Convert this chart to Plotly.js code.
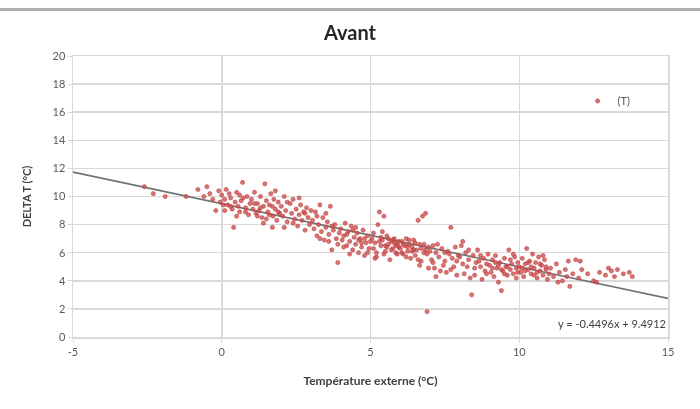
<!DOCTYPE html>
<html>
<head>
<meta charset="utf-8">
<script src="https://cdn.plot.ly/plotly-3.0.1.min.js"></script>
<style>
  html, body { margin: 0; padding: 0; background: #fff; }
  #wrap { position: relative; width: 700px; height: 409px; }
  #topline { position: absolute; left: 0; top: 8px; width: 700px; height: 3px; background: #b0b0b0; }
  #chart { position: absolute; left: 0; top: 0; width: 700px; height: 409px; filter: blur(0.5px); }
</style>
</head>
<body>
<div id="wrap"><div id="topline"></div><div id="chart"></div></div>
<script>
// Scatter data: external temperature (°C) vs DELTA T (°C)
const tempExt = [
  -2.6,-2.3,-1.9,-1.2,-0.8,-0.5,-0.2,-0.4,-0.1,-0.3,-0.6,-0.05,
  0.0,0.1,0.15,0.2,0.25,0.3,0.35,0.4,0.45,0.5,0.55,0.6,0.65,0.7,0.72,0.8,0.85,0.9,0.95,0.3,0.5,0.1,0.6,0.8,0.05,
  1.0,1.05,1.1,1.15,1.2,1.25,1.3,1.35,1.4,1.45,1.5,1.55,1.6,1.65,1.7,1.72,1.75,1.8,1.85,1.9,1.95,1.2,1.4,1.6,1.8,1.1,1.3,1.5,1.7,1.9,
  2.0,2.05,2.1,2.15,2.2,2.3,2.35,2.4,2.45,2.5,2.55,2.6,2.65,2.7,2.75,2.8,2.85,2.9,2.95,2.2,2.4,2.6,2.8,3.0,2.1,
  3.05,3.1,3.15,3.2,3.25,3.3,3.35,3.4,3.45,3.5,3.55,3.6,3.65,3.7,3.75,3.8,3.85,3.9,3.95,3.3,3.5,3.7,3.9,3.2,3.6,
  4.0,4.05,4.1,4.15,4.2,4.25,4.3,4.35,4.4,4.45,4.5,4.55,4.6,4.65,4.7,4.75,4.8,4.85,4.9,4.95,4.2,4.4,4.6,4.8,4.1,4.3,4.5,4.7,4.9,5.0,
  5.05,5.1,5.15,5.2,5.25,5.3,5.35,5.4,5.45,5.5,5.55,5.6,5.65,5.7,5.75,5.8,5.85,5.9,5.95,5.1,5.2,5.3,5.4,5.5,5.6,5.7,5.8,5.9,5.15,5.35,5.55,5.75,5.95,5.45,5.85,
  6.0,6.05,6.1,6.15,6.2,6.25,6.3,6.35,6.4,6.45,6.5,6.55,6.6,6.65,6.7,6.75,6.8,6.85,6.9,6.95,6.1,6.2,6.3,6.4,6.5,6.6,6.7,6.8,6.9,6.05,6.25,6.45,6.65,6.85,6.95,
  7.0,7.05,7.1,7.15,7.2,7.3,7.35,7.4,7.5,7.55,7.6,7.7,7.75,7.8,7.85,7.9,7.95,7.25,7.45,7.65,7.1,7.5,7.9,7.2,7.7,
  8.0,8.05,8.1,8.15,8.2,8.3,8.35,8.4,8.45,8.5,8.55,8.6,8.7,8.75,8.8,8.85,8.9,8.95,8.25,8.65,8.1,8.5,8.9,8.3,8.7,
  9.0,9.05,9.1,9.15,9.2,9.25,9.3,9.35,9.4,9.45,9.5,9.55,9.6,9.65,9.7,9.75,9.8,9.85,9.9,9.95,9.1,9.3,9.5,9.7,9.9,9.2,9.4,9.6,9.8,9.95,
  10.0,10.05,10.1,10.15,10.2,10.25,10.3,10.35,10.4,10.45,10.5,10.55,10.6,10.65,10.7,10.75,10.8,10.85,10.9,10.95,10.1,10.3,10.5,10.7,10.9,10.2,10.4,10.6,10.8,11.0,
  11.05,11.15,11.25,11.35,11.45,11.55,11.65,11.7,11.8,11.9,12.0,12.1,11.3,11.6,12.05,
  12.3,12.5,12.7,12.9,13.0,13.1,13.2,13.3,13.5,13.7,13.8,12.6
];
const deltaT = [
  10.7,10.2,10.0,10.0,10.5,10.7,9.0,10.2,10.4,9.8,10.0,9.6,
  10.1,9.8,10.5,9.4,10.2,9.9,9.1,7.8,9.6,10.3,9.3,8.9,9.7,11.0,9.9,9.2,10.0,8.7,9.5,9.3,8.6,9.0,10.1,8.9,9.4,
  9.8,9.1,10.3,8.8,9.5,9.0,10.0,8.5,9.3,10.9,9.7,8.9,9.4,10.2,7.8,8.6,9.8,9.1,8.3,9.6,8.8,8.6,8.1,8.7,10.4,9.5,9.2,8.4,9.3,8.9,
  9.3,8.6,10.0,9.0,8.2,9.5,8.8,9.8,8.4,9.1,7.9,8.7,9.4,8.3,8.9,7.6,9.2,8.5,8.0,9.6,8.1,9.9,8.8,9.0,7.8,
  8.3,7.7,8.9,7.2,8.0,9.4,7.5,8.5,6.9,7.8,8.2,7.3,9.3,6.2,7.6,8.0,7.0,5.3,7.4,7.0,8.8,7.9,6.6,8.6,6.8,
  7.7,6.9,7.2,8.1,6.5,7.5,6.8,7.9,6.2,7.1,6.6,7.4,6.0,7.0,6.4,7.6,5.8,6.7,7.2,6.3,7.3,7.6,6.9,7.0,6.4,5.9,7.8,6.7,6.0,6.8,
  7.0,6.3,6.7,5.7,8.0,8.9,6.5,6.9,8.6,6.1,7.2,6.6,5.5,6.8,6.3,7.0,6.0,6.6,6.4,7.4,6.0,6.8,7.5,6.5,7.0,6.2,6.7,5.9,5.6,7.1,6.4,6.9,6.8,5.9,6.5,
  6.3,6.8,5.9,6.5,7.0,6.1,6.6,5.6,6.4,6.9,5.8,6.2,8.3,6.6,5.4,8.6,6.0,8.8,1.8,6.4,6.6,5.7,6.9,6.1,6.7,5.5,6.3,6.6,5.9,6.0,6.4,6.2,5.1,6.2,4.9,
  6.1,5.5,6.5,4.9,6.0,5.7,4.7,6.3,5.4,4.6,6.1,7.8,5.6,5.0,6.4,4.4,5.8,6.6,5.1,5.9,5.3,6.0,5.4,4.3,4.8,
  5.7,6.5,5.2,4.5,6.0,5.5,4.2,3.0,5.8,4.9,5.3,6.2,5.0,4.1,5.6,4.7,5.2,5.9,5.0,5.4,6.8,4.4,4.5,6.2,5.8,
  5.1,4.6,5.5,4.3,5.8,4.9,3.9,5.3,3.3,4.7,5.6,5.0,4.4,6.2,4.8,5.2,4.5,5.7,4.9,5.3,4.9,5.1,4.5,5.5,4.2,5.3,4.8,5.0,5.9,4.6,
  5.0,4.6,5.6,4.3,5.2,6.3,4.8,5.4,4.5,5.9,4.9,5.3,4.2,5.7,4.7,5.1,4.4,5.5,4.8,4.1,4.9,5.3,4.4,5.2,5.0,4.7,5.0,4.6,5.8,4.5,
  4.9,4.3,5.2,4.6,4.0,4.8,5.4,3.6,4.5,5.5,4.2,4.8,3.9,4.3,5.4,
  4.5,4.0,4.6,4.4,4.9,4.7,4.3,4.8,4.5,4.6,4.3,3.9
];
// Trendline shown on the chart: y = -0.4496x + 9.4912
const trendSlope = -0.4496;
const trendIntercept = 9.4912;
const trendX = [-5, 15];
const trendY = trendX.map(x => trendSlope * x + trendIntercept);
const xTicks = [-5, 0, 5, 10, 15];
const yTicks = [0, 2, 4, 6, 8, 10, 12, 14, 16, 18, 20];

const gridColor = '#d9d9d9';
const font = 'Lato, "Open Sans", sans-serif';

const traces = [
  {
    x: trendX, y: trendY, mode: 'lines', type: 'scatter',
    line: { color: '#6f7374', width: 1.6 }, showlegend: false, hoverinfo: 'skip'
  },
  {
    x: tempExt, y: deltaT, mode: 'markers', type: 'scatter', name: '(T)',
    marker: { color: 'rgba(205,80,80,0.8)', size: 4.2, line: { color: 'rgba(185,55,55,0.85)', width: 0.6 } }
  }
];

const layout = {
  width: 700, height: 409,
  margin: { l: 73, r: 32, t: 56, b: 72 },
  paper_bgcolor: 'rgba(0,0,0,0)', plot_bgcolor: 'rgba(0,0,0,0)',
  font: { family: font, color: '#595959', size: 11 },
  title: { text: '<b>Avant</b>', x: 0.5, xanchor: 'center', y: 0.92, yanchor: 'middle',
           font: { family: font, size: 20, color: '#262626' } },
  xaxis: {
    range: [-5, 15], tickvals: xTicks, ticktext: xTicks.map(String),
    showgrid: true, gridcolor: gridColor, gridwidth: 1.5, zeroline: false, zerolinecolor: gridColor, zerolinewidth: 1.5,
    showline: true, linecolor: gridColor, linewidth: 1.5, mirror: true,
    ticks: 'outside', ticklen: 4, tickcolor: gridColor,
    tickfont: { size: 11, color: '#595959' },
    title: { text: '<b>Température externe (°C)</b>', standoff: 20, font: { size: 12, color: '#404040' } }
  },
  yaxis: {
    range: [0, 20], tickvals: yTicks, ticktext: yTicks.map(String),
    showgrid: true, gridcolor: gridColor, gridwidth: 1.5, zeroline: false, zerolinecolor: gridColor, zerolinewidth: 1.5,
    showline: true, linecolor: gridColor, linewidth: 1.5, mirror: true,
    ticks: 'outside', ticklen: 4, tickcolor: gridColor,
    tickfont: { size: 11, color: '#595959' },
    title: { text: '<b>DELTA T (°C)</b>', standoff: 18, font: { size: 11, color: '#404040' } }
  },
  legend: { x: 0.848, y: 0.84, xanchor: 'left', yanchor: 'middle', bgcolor: 'rgba(0,0,0,0)',
            font: { size: 11, color: '#595959' }, itemwidth: 30 },
  annotations: [{
    xref: 'x', yref: 'y', x: 15, y: 0.95, xanchor: 'right', yanchor: 'middle',
    text: 'y = -0.4496x + 9.4912', showarrow: false, font: { size: 11, color: '#404040' }
  }]
};

Plotly.newPlot('chart', traces, layout, { displayModeBar: false, staticPlot: true });
</script>
</body>
</html>
